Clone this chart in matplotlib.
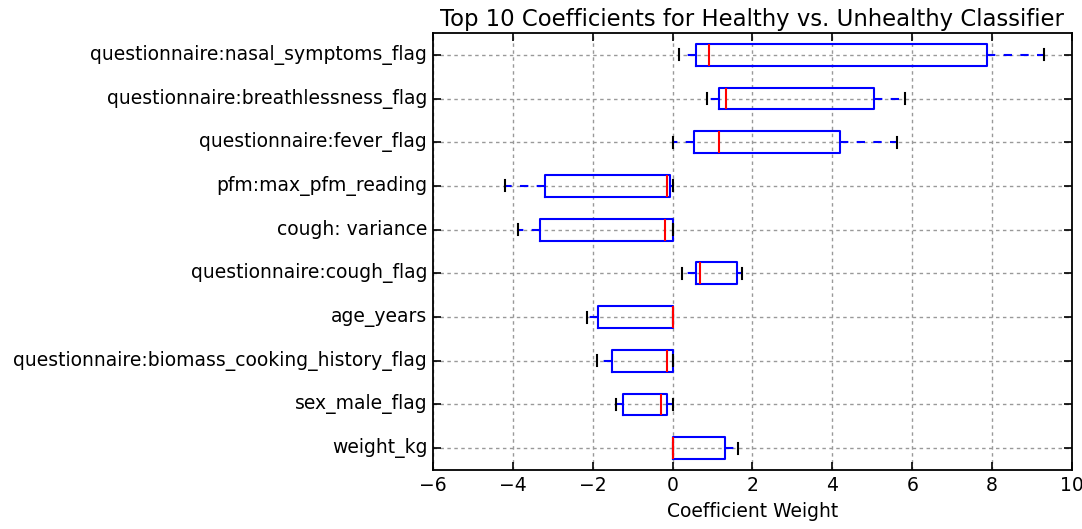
import matplotlib
matplotlib.use("Agg")
import matplotlib.pyplot as plt

plt.style.use("classic")

# features listed bottom -> top, as the boxes are stacked
features = [
    "weight_kg",
    "sex_male_flag",
    "questionnaire:biomass_cooking_history_flag",
    "age_years",
    "questionnaire:cough_flag",
    "cough: variance",
    "pfm:max_pfm_reading",
    "questionnaire:fever_flag",
    "questionnaire:breathlessness_flag",
    "questionnaire:nasal_symptoms_flag",
]

# coefficient spread per feature
whis_lo = [0.00, -1.41, -1.90, -2.14, 0.24, -3.88, -4.20, 0.01, 0.87, 0.16]
q1 = [0.00, -1.24, -1.52, -1.86, 0.58, -3.31, -3.20, 0.53, 1.16, 0.58]
median = [0.00, -0.29, -0.15, 0.00, 0.68, -0.19, -0.13, 1.16, 1.34, 0.92]
q3 = [1.31, -0.13, 0.01, 0.00, 1.61, 0.02, -0.07, 4.18, 5.04, 7.88]
whis_hi = [1.65, 0.01, 0.01, 0.00, 1.73, 0.02, 0.01, 5.62, 5.81, 9.30]

stats = []
for i in range(len(features)):
    stats.append({
        "label": features[i],
        "whislo": whis_lo[i],
        "q1": q1[i],
        "med": median[i],
        "q3": q3[i],
        "whishi": whis_hi[i],
        "fliers": [],
    })

fig = plt.figure(figsize=(10.82, 5.29), facecolor="white")
ax = fig.add_axes([0.400, 0.1115, 0.5908, 0.8261])

lw = 1.5
ax.bxp(stats, orientation="horizontal", widths=0.5,
       boxprops=dict(color="b", linewidth=lw),
       whiskerprops=dict(color="b", linestyle="--", linewidth=lw),
       capprops=dict(color="k", linewidth=lw),
       medianprops=dict(color="r", linewidth=lw))

ax.set_xlim(-6, 10)
ax.set_ylim(0.5, 10.5)
ax.grid(True, color="0.6", linestyle="--", linewidth=1.0, dashes=(2.5, 2.5))
ax.set_axisbelow(True)
for spine in ax.spines.values():
    spine.set_linewidth(1.3)
ax.tick_params(labelsize=13.5, width=1.2, size=6)
ax.set_title("Top 10 Coefficients for Healthy vs. Unhealthy Classifier", fontsize=16.4)
ax.set_xlabel("Coefficient Weight", fontsize=13.5)

fig.savefig("out.png", dpi=100, facecolor="white")
